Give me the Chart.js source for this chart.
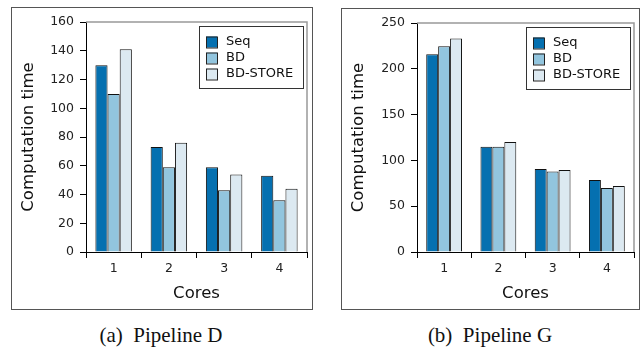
<!DOCTYPE html>
<html>
<head>
<meta charset="utf-8">
<script src="https://cdn.jsdelivr.net/npm/chart.js@4.4.0/dist/chart.umd.min.js"></script>
<style>
body { margin: 0; width: 642px; height: 347px; background: #fff; position: relative; overflow: hidden; }
.frame { position: absolute; border: 1.5px solid #555; box-sizing: border-box; }
canvas { position: absolute; }
.cap { position: absolute; top: 325px; width: 300px; line-height: 20px; text-align: center;
       font-family: 'Liberation Serif', serif; font-size: 21px; color: #111; }
</style>
</head>
<body>
<div class="frame" style="left:11px;top:7px;width:302px;height:303px"></div>
<canvas id="chartD" width="299" height="300" style="left:12px;top:8px"></canvas>
<div class="frame" style="left:341px;top:8px;width:299px;height:302px"></div>
<canvas id="chartG" width="296" height="299" style="left:342px;top:9px"></canvas>
<div class="cap" style="left:11px">(a)&nbsp; Pipeline D</div>
<div class="cap" style="left:340px">(b)&nbsp; Pipeline G</div>
<script>
const cores = ['1', '2', '3', '4'];
const seriesNames = ['Seq', 'BD', 'BD-STORE'];
const colors = ['#0570b0', '#92c5de', '#dce9f1'];

// Pipeline D
const seqD = [130, 73, 59, 53];
const bdD = [110, 59, 43, 36];
const storeD = [141, 76, 54, 44];

// Pipeline G
const seqG = [216, 115, 90.5, 78.5];
const bdG = [224.5, 115, 88, 70];
const storeG = [233, 120, 89.5, 72];

const font = 'DejaVu Sans';

// grey top/right edge of the plot
const plotFrame = {
    id: 'plotFrame',
    beforeDatasetsDraw(chart) {
        const { ctx, chartArea: a } = chart;
        ctx.save();
        ctx.strokeStyle = '#999';
        ctx.lineWidth = 1.5;
        ctx.beginPath();
        ctx.moveTo(a.left, a.top);
        ctx.lineTo(a.right, a.top);
        ctx.lineTo(a.right, a.bottom);
        ctx.stroke();
        ctx.restore();
    }
};

// boxed legend inside the plot, top right
const boxLegend = {
    id: 'boxLegend',
    afterDraw(chart) {
        const { ctx, chartArea } = chart;
        const w = 105, h = 63;
        const x = chartArea.right - 3 - w, y = chartArea.top + 4;
        ctx.save();
        ctx.fillStyle = '#fff';
        ctx.fillRect(x, y, w, h);
        ctx.strokeStyle = '#333';
        ctx.lineWidth = 1;
        ctx.strokeRect(x + 0.5, y + 0.5, w - 1, h - 1);
        ctx.font = '13px "' + font + '"';
        ctx.textBaseline = 'middle';
        chart.data.datasets.forEach((ds, i) => {
            const cy = y + 16 + i * 16;
            ctx.fillStyle = ds.backgroundColor;
            ctx.fillRect(x + 7, cy - 5.5, 11, 11);
            ctx.strokeStyle = '#222';
            ctx.strokeRect(x + 7.5, cy - 5, 11, 11);
            ctx.fillStyle = '#111';
            ctx.fillText(ds.label, x + 27, cy);
        });
        ctx.restore();
    }
};

function makeChart(id, values, yMax, yStep, yWidth) {
    const ctx = document.getElementById(id).getContext('2d');
    return new Chart(ctx, {
        type: 'bar',
        data: {
            labels: cores,
            datasets: values.map((v, i) => ({
                label: seriesNames[i],
                data: v,
                backgroundColor: colors[i],
                borderColor: '#111',
                borderWidth: 1,
                categoryPercentage: 0.66,
                barPercentage: 1.0
            }))
        },
        options: {
            responsive: false,
            animation: false,
            layout: { padding: { top: 14, right: 4, left: 0, bottom: 0 } },
            plugins: { legend: { display: false }, tooltip: { enabled: false } },
            scales: {
                x: {
                    afterFit(scale) { scale.height = 56; },
                    grid: { offset: true, drawOnChartArea: false, drawTicks: true, tickLength: 6, color: '#000' },
                    border: { display: true, color: '#000', width: 1 },
                    ticks: { color: '#222', padding: 3, font: { family: font, size: 12.5 } },
                    title: { display: true, text: 'Cores', color: '#111', font: { family: font, size: 16.5 }, padding: { top: 4, bottom: 4 } }
                },
                y: {
                    min: 0,
                    max: yMax,
                    afterFit(scale) { scale.width = yWidth; },
                    grid: { drawOnChartArea: false, drawTicks: true, tickLength: 6, color: '#000' },
                    border: { display: true, color: '#000', width: 1 },
                    ticks: { stepSize: yStep, color: '#222', padding: 6, font: { family: font, size: 12.5 } },
                    title: { display: true, text: 'Computation time', color: '#111', font: { family: font, size: 16.5 }, padding: { top: 7, bottom: 4 } }
                }
            }
        },
        plugins: [plotFrame, boxLegend]
    });
}

makeChart('chartD', [seqD, bdD, storeD], 160, 20, 74);
makeChart('chartG', [seqG, bdG, storeG], 250, 50, 75);
</script>
</body>
</html>
